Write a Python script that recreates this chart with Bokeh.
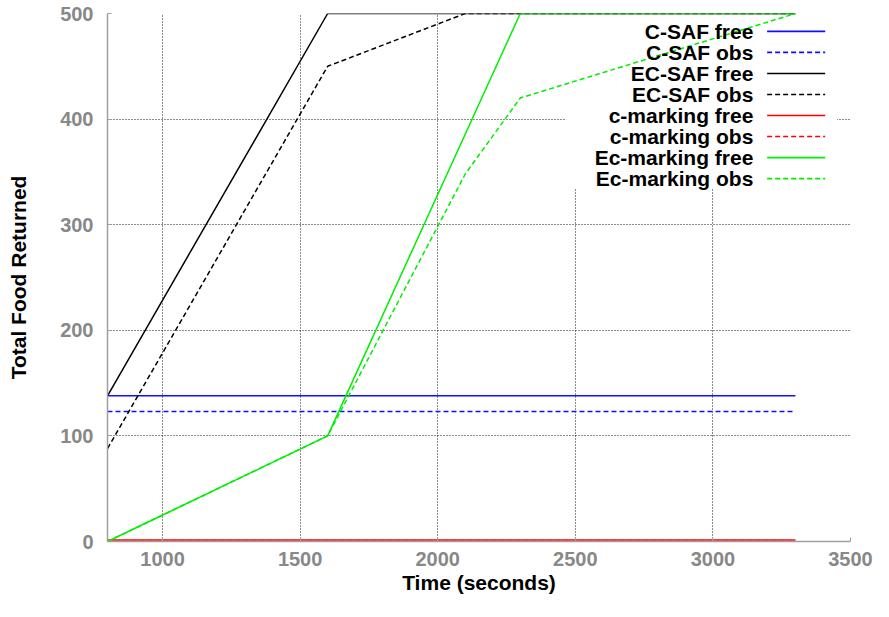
from bokeh.plotting import figure
from bokeh.models import Range1d, BoxAnnotation, FixedTicker
from bokeh.embed import file_html
from bokeh.resources import INLINE
from bokeh.core.properties import value

# ---- data ----
series_names = ["C-SAF free", "C-SAF obs", "EC-SAF free", "EC-SAF obs",
                "c-marking free", "c-marking obs", "Ec-marking free", "Ec-marking obs"]

csaf_free_t = [800, 3300]
csaf_free_y = [138, 138]
csaf_obs_t = [800, 3300]
csaf_obs_y = [123, 123]
ecsaf_free_t = [800, 1600, 3300]
ecsaf_free_y = [138, 500, 500]
ecsaf_obs_t = [800, 1600, 2100, 3300]
ecsaf_obs_y = [88, 450, 500, 500]
cmark_free_t = [800, 3300]
cmark_free_y = [1.5, 1.5]
cmark_obs_t = [800, 3300]
cmark_obs_y = [0, 0]
ecmark_free_t = [800, 1600, 2300, 3300]
ecmark_free_y = [0, 100, 500, 500]
ecmark_obs_t = [800, 1600, 2100, 2300, 3300]
ecmark_obs_y = [0, 100, 348, 420, 500]

x_ticks = [1000, 1500, 2000, 2500, 3000, 3500]
y_ticks = [0, 100, 200, 300, 400, 500]

# ---- styles ----
colors = ["#1010ff", "#1010ff", "#000000", "#000000",
          "#ff0000", "#ff0000", "#00ee00", "#00ee00"]
dashes = ["solid", "5 3", "solid", "5 3", "solid", "5 3", "solid", "5 3"]
xs = [csaf_free_t, csaf_obs_t, ecsaf_free_t, ecsaf_obs_t,
      cmark_free_t, cmark_obs_t, ecmark_free_t, ecmark_obs_t]
ys = [csaf_free_y, csaf_obs_y, ecsaf_free_y, ecsaf_obs_y,
      cmark_free_y, cmark_obs_y, ecmark_free_y, ecmark_obs_y]

FONT = "Liberation Sans"

p = figure(width=873, height=601, output_backend="svg", toolbar_location=None,
           x_range=Range1d(800, 3500), y_range=Range1d(0, 500),
           min_border_left=107, min_border_right=23, min_border_top=13, min_border_bottom=60)
p.outline_line_color = None
p.background_fill_color = "white"
p.border_fill_color = "white"

for ax, ticks in ((p.xaxis, x_ticks), (p.yaxis, y_ticks)):
    ax.ticker = FixedTicker(ticks=ticks)
    ax.axis_line_color = "#a0a0a0"
    ax.axis_line_width = 1.5
    ax.major_tick_line_color = "#a0a0a0"
    ax.major_tick_in = 4
    ax.major_tick_out = 0
    ax.minor_tick_line_color = None
    ax.major_label_text_font = FONT
    ax.major_label_text_font_style = "bold"
    ax.major_label_text_font_size = "20px"
    ax.major_label_text_color = "#888888"
    ax.axis_label_text_font = FONT
    ax.axis_label_text_font_style = "bold"
    ax.axis_label_text_font_size = "21px"
    ax.axis_label_text_color = "black"

p.xaxis.axis_label = "Time (seconds)"
p.yaxis.axis_label = "Total Food Returned"
p.xaxis.major_label_standoff = 10
p.xaxis.axis_label_standoff = 2
p.yaxis.major_label_standoff = 14
p.yaxis.axis_label_standoff = 27

for g in (p.xgrid, p.ygrid):
    g.grid_line_color = "black"
    g.grid_line_dash = "1 2"
    g.grid_line_width = 1
    g.grid_line_alpha = 0.9
p.xgrid.ticker = FixedTicker(ticks=x_ticks)
p.ygrid.ticker = FixedTicker(ticks=y_ticks)

# white key background hiding the grid
key_bg = BoxAnnotation(left=2467, right=3451, bottom=334, top=500,
                       fill_color="white", fill_alpha=1.0, line_color=None, level="underlay")
p.add_layout(key_bg)

for t, y, c, d in zip(xs, ys, colors, dashes):
    p.line(t, y, line_color=c, line_dash=d, line_width=1.5)

# manual key: label on the left, sample on the right
key_text_x = 3147
key_x0, key_x1 = 3197, 3408
key_y0, key_dy = 483, -19.9
key_y = [key_y0 + i * key_dy for i in range(len(series_names))]
p.text(x=[key_text_x] * len(series_names), y=key_y, text=series_names,
       text_align="right", text_baseline="middle", text_font=value(FONT),
       text_font_style="bold", text_font_size="21px", text_color="black")
for yy, c, d in zip(key_y, colors, dashes):
    p.line([key_x0, key_x1], [yy, yy], line_color=c, line_dash=d, line_width=1.7)

open("out.html", "w").write(file_html(p, INLINE))
